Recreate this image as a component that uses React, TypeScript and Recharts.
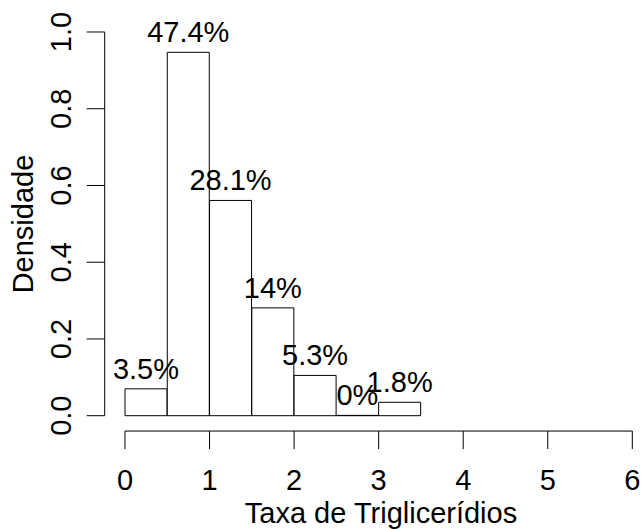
import { Bar, ComposedChart, LabelList, ReferenceLine, XAxis, YAxis } from "recharts";

// histogram bins (left edges, width 0.5) and the densities
const BIN_STARTS = [0, 0.5, 1, 1.5, 2, 2.5, 3, 3.5, 4, 4.5, 5, 5.5];
const DENSITY = [0.07, 0.947, 0.561, 0.281, 0.105, 0, 0.035];
const PCT_LABELS = ["3.5%", "47.4%", "28.1%", "14%", "5.3%", "0%", "1.8%"];
const X_TICKS = [0, 1, 2, 3, 4, 5, 6];
const Y_TICKS = [0, 0.2, 0.4, 0.6, 0.8, 1];

const data = BIN_STARTS.map((start, i) => ({
  bin: start,
  density: DENSITY[i] ?? null,
  pct: PCT_LABELS[i] ?? null,
}));

const FONT = "'Liberation Sans', Arial, Helvetica, sans-serif";
const FS = 29;

const XTick = (props: any) => (
  <text x={props.x} y={490} textAnchor="middle" fontFamily={FONT} fontSize={FS} fill="#000">
    {props.payload.value}
  </text>
);

const YTick = (props: any) => (
  <text
    x={71}
    y={props.y}
    transform={`rotate(-90, 71, ${props.y})`}
    textAnchor="middle"
    fontFamily={FONT}
    fontSize={FS}
    fill="#000"
  >
    {Number(props.payload.value).toFixed(1)}
  </text>
);

export default function App() {
  return (
    <div
      style={{
        position: "fixed",
        left: 0,
        top: 0,
        width: 642,
        height: 529,
        overflow: "hidden",
        background: "#fff",
      }}
    >
      <ComposedChart
        width={660}
        height={529}
        data={data}
        barCategoryGap={0}
        margin={{ top: 16.65, right: 7.4, bottom: 0, left: 0 }}
      >
        <XAxis xAxisId="bins" dataKey="bin" type="category" hide padding={{ left: 20.3, right: 20.3 }} />
        <XAxis
          xAxisId={0}
          dataKey="bin"
          type="number"
          domain={[-0.24, 6.24]}
          allowDataOverflow
          ticks={X_TICKS}
          height={97.95}
          axisLine={false}
          tickLine={{ stroke: "#000", strokeWidth: 1 }}
          tickSize={18}
          tick={<XTick />}
          label={{
            content: () => (
              <text x={381} y={523} textAnchor="middle" fontFamily={FONT} fontSize={FS} fill="#000">
                Taxa de Triglicerídios
              </text>
            ),
          }}
        />
        <YAxis
          type="number"
          domain={[-0.04, 1.04]}
          allowDataOverflow
          ticks={Y_TICKS}
          width={104.7}
          axisLine={false}
          tickLine={{ stroke: "#000", strokeWidth: 1 }}
          tickSize={18}
          tick={<YTick />}
          label={{
            content: () => (
              <text
                x={33}
                y={224}
                transform="rotate(-90, 33, 224)"
                textAnchor="middle"
                fontFamily={FONT}
                fontSize={FS}
                fill="#000"
              >
                Densidade
              </text>
            ),
          }}
        />
        <ReferenceLine
          segment={[{ x: 0, y: -0.04 }, { x: 6, y: -0.04 }]}
          stroke="#000"
          strokeWidth={1}
          ifOverflow="visible"
        />
        <ReferenceLine
          segment={[{ x: -0.24, y: 0 }, { x: -0.24, y: 1 }]}
          stroke="#000"
          strokeWidth={1}
          ifOverflow="visible"
        />
        <Bar
          xAxisId="bins"
          dataKey="density"
          fill="#fff"
          stroke="#000"
          strokeWidth={1}
          minPointSize={0.3}
          isAnimationActive={false}
        >
          <LabelList
            dataKey="pct"
            position="top"
            offset={10}
            fontFamily={FONT}
            fontSize={FS}
            fill="#000"
          />
        </Bar>
      </ComposedChart>
    </div>
  );
}
